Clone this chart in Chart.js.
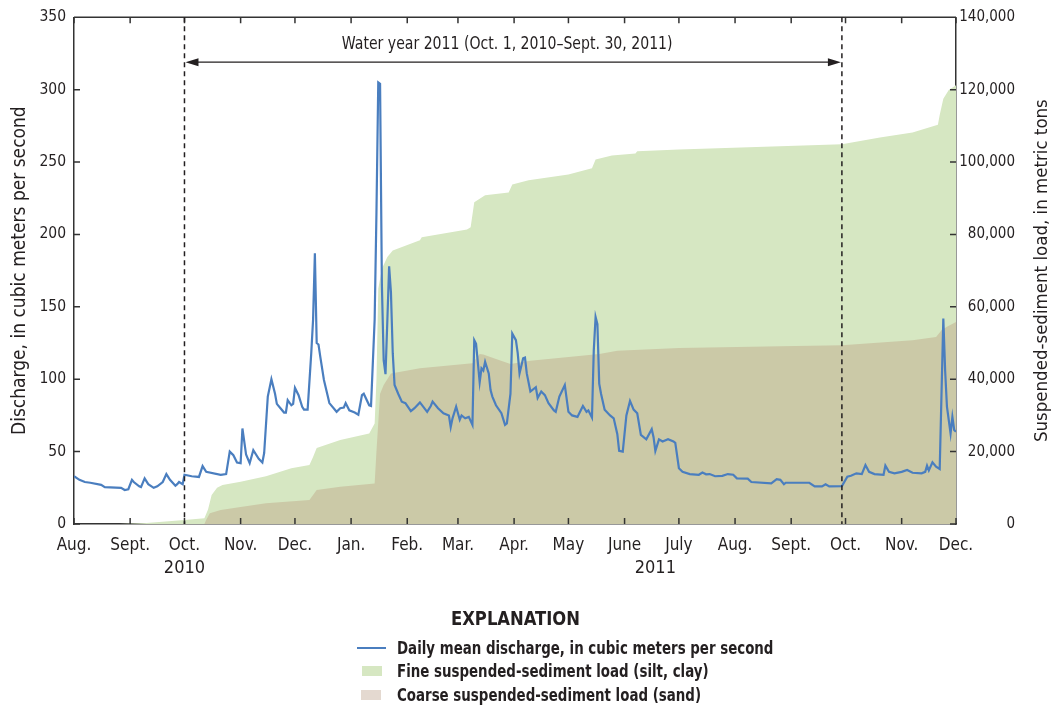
<!DOCTYPE html>
<html>
<head>
<meta charset="utf-8">
<script src="https://cdn.jsdelivr.net/npm/chart.js@4.4.1/dist/chart.umd.min.js"></script>
<style>
  body { margin: 0; background: #fff; }
  #wrap { position: relative; width: 1054px; height: 706px; font-family: 'Liberation Sans Narrow', 'DejaVu Sans Condensed', sans-serif; color: #231f20; }
  #chart { position: absolute; left: 0; top: 0; }
  .lg { position: absolute; font-weight: bold; font-size: 17px; line-height: 20px; white-space: nowrap; transform: scaleX(0.875); transform-origin: left center; }
  .sw { position: absolute; }
</style>
</head>
<body>
<div id="wrap">
  <canvas id="chart" width="1054" height="706"></canvas>
  <div class="lg" style="left:451px;top:606px;font-size:19px;line-height:24px;transform:scaleX(0.96);">EXPLANATION</div>
  <div class="sw" style="left:357px;top:647px;width:29px;height:2px;background:#4a7ebf;"></div>
  <div class="lg" style="left:397px;top:638px;">Daily mean discharge, in cubic meters per second</div>
  <div class="sw" style="left:362px;top:666px;width:20px;height:10px;background:#d6e7c2;"></div>
  <div class="lg" style="left:397px;top:661px;">Fine suspended-sediment load (silt, clay)</div>
  <div class="sw" style="left:361px;top:690px;width:20px;height:10px;background:#e4d9d0;"></div>
  <div class="lg" style="left:397px;top:685px;">Coarse suspended-sediment load (sand)</div>
</div>
<script>
// days counted from Aug. 1, 2010
var monthTickDay = [0,31,61,92,122,153,184,212,243,273,304,334,365,396,426,457,487]
var monthTickLabel = ['Aug.','Sept.','Oct.','Nov.','Dec.','Jan.','Feb.','Mar.','Apr.','May','June','July','Aug.','Sept.','Oct.','Nov.','Dec.']
var yearLabelDay = [61, 321]
var yearLabel = ['2010', '2011']
var waterYearDay = [61, 424]

// daily mean discharge, m3/s
var dischargeDay = [0,3,6,9,15,17,26,28,30,32,33,36,37,39,41,44,46,49,51,53,56,57,58,60,61,65,69,71,73,81,84,86,88,90,92,93,95,97,99,102,104,105,107,109,111,112,114,116,117,118,120,121,122,124,126,127,129,131,132,133,134,135,136,138,140,141,145,147,149,150,152,155,157,159,160,163,164,166,167,168,169,170,171,172,173,174,175,176,177,179,181,183,186,188,191,195,197,198,201,204,207,208,209,211,213,214,216,218,220,221,222,224,225,226,227,229,230,231,233,236,238,239,241,242,244,245,246,248,249,250,252,255,256,258,260,262,265,266,268,271,273,275,278,279,281,283,284,286,287,288,289,290,291,293,296,298,300,301,303,305,307,309,311,313,316,319,320,321,323,325,328,331,332,334,336,340,345,347,349,351,354,358,361,364,366,372,374,385,388,390,392,393,406,409,413,415,417,424,427,429,432,435,437,439,442,447,448,450,453,457,460,463,468,470,471,472,474,476,478,480,481,482,484,485,486,487]
var dischargeValue = [33,30.5,29,28.5,27,25.5,25,23.5,24,30.5,29,26,25.5,31.5,27.5,25,26,29,34.5,30.5,26.5,27.5,29,27.5,34,33,32.5,40,36,34,34.5,50,47.5,42.5,42,66,48,42,51,45,42.5,49,88,100,90,83,80,77,77,85.5,82,83,94,89,81,79,79,118,141,187,125,124,115.5,99.5,89,83.5,77.5,80,80.5,83.5,78.5,77,75.5,89,90,82,81.5,141,215,305,304,165,113,103.5,140,178,160,118,96,90,84.5,83.5,78,80,84,77.5,81.5,84.5,80,76.5,75,67,73,81,72,75,73,74,68.5,127,124.5,98,107.5,106,112,104,92.5,88,82,76.5,68.5,69.5,90,131.5,127,118,104,114.5,115,104,91.5,94.5,87,91.5,89,83.5,78.5,77.5,88,96,77.5,75,74,76.5,81.5,77.5,78.5,73.5,120,143,138,97,90,79,75,73,62,50.5,50,75,85,79,76.5,61.5,58.5,65.5,60,50.5,58.5,57,58.5,57,56,38.5,36,34.5,34,35.5,34.3,34.5,33,33.3,34.5,34,31.5,31.3,29,28,31,30.5,27.5,28.5,28.5,26,26,27.5,26,26.2,32.7,33.3,35,34.5,40.7,36,34.5,34,40.3,36,35,36,37.3,35.4,35,36,40.3,37,42.6,39.6,38,142,106,81,62.6,74,65,63.7]

// cumulative fine suspended-sediment load, metric tons
var fineDay = [0,25,40,61,72,74,76,79,82,92,106,120,130,132,134,147,163,166,167,168,170,173,176,191,192,217,219,221,227,240,242,251,273,286,288,297,310,311,334,424,445,463,477,478,480,483,487]
var fineLoad = [0,0,300,1100,1600,4000,8000,10000,10800,11700,13200,15400,16300,18500,21000,23200,25000,27800,40000,65000,70500,73800,75600,78400,79200,81400,82000,88900,90800,91600,93800,95000,96600,98300,100700,101800,102400,103000,103500,104900,106800,108200,110300,113000,117500,119900,121200]

// cumulative coarse suspended-sediment load, metric tons
var coarseDay = [0,72,73,75,81,92,106,130,132,134,147,166,167,169,171,175,191,220,224,226,233,241,252,290,300,334,390,424,463,476,479,482,487]
var coarseLoad = [0,0,1200,3000,3900,4700,5700,6600,8000,9400,10300,11200,20000,36000,38400,41600,43000,44400,47000,46800,45600,44200,45100,47000,47900,48600,49100,49400,50800,51700,53500,54500,55800]

var FONT = "'Liberation Sans Narrow', 'DejaVu Sans Condensed', sans-serif"
var INK = '#231f20'

function pts(xs, ys) {
  return xs.map(function (d, i) { return { x: d, y: ys[i] } })
}

// squeezed text, the original uses a condensed face
function narrowText(ctx, text, x, y, sx) {
  ctx.save()
  ctx.translate(x, y)
  ctx.scale(sx, 1)
  ctx.fillText(text, 0, 0)
  ctx.restore()
}

const decorations = {
  id: 'decorations',
  afterDraw(chart) {
    const { ctx, chartArea: a, scales } = chart
    const x = scales.x, y = scales.y, y2 = scales.y2
    ctx.save()
    ctx.strokeStyle = '#333'
    ctx.lineWidth = 1.5
    ctx.beginPath()
    ctx.moveTo(a.left, a.top); ctx.lineTo(a.right, a.top)
    // inward tick marks
    x.ticks.forEach(t => {
      const px = x.getPixelForValue(t.value)
      ctx.moveTo(px, a.bottom); ctx.lineTo(px, a.bottom - 6)
      ctx.moveTo(px, a.top); ctx.lineTo(px, a.top + 6)
    })
    y.ticks.forEach(t => {
      const py = y.getPixelForValue(t.value)
      ctx.moveTo(a.left, py); ctx.lineTo(a.left + 6, py)
    })
    y2.ticks.forEach(t => {
      const py = y2.getPixelForValue(t.value)
      ctx.moveTo(a.right, py); ctx.lineTo(a.right - 6, py)
    })
    ctx.stroke()

    // water year bounds
    ctx.strokeStyle = INK
    ctx.setLineDash([5, 4])
    ctx.beginPath()
    waterYearDay.forEach(d => {
      const px = x.getPixelForValue(d)
      ctx.moveTo(px, a.top); ctx.lineTo(px, a.bottom)
    })
    ctx.stroke()
    ctx.setLineDash([])

    // arrow
    const x1 = x.getPixelForValue(waterYearDay[0]) + 1
    const x2 = x.getPixelForValue(waterYearDay[1]) - 1
    const ay = y.getPixelForValue(319)
    ctx.lineWidth = 1.3
    ctx.beginPath()
    ctx.moveTo(x1 + 10, ay); ctx.lineTo(x2 - 10, ay)
    ctx.stroke()
    ctx.fillStyle = INK
    ctx.beginPath()
    ctx.moveTo(x1, ay); ctx.lineTo(x1 + 13, ay - 4); ctx.lineTo(x1 + 13, ay + 4); ctx.closePath()
    ctx.moveTo(x2, ay); ctx.lineTo(x2 - 13, ay - 4); ctx.lineTo(x2 - 13, ay + 4); ctx.closePath()
    ctx.fill()

    ctx.font = '17px ' + FONT
    ctx.textAlign = 'center'
    ctx.textBaseline = 'middle'
    narrowText(ctx, 'Water year 2011 (Oct. 1, 2010\u2013Sept. 30, 2011)', (x1 + x2) / 2 - 6, y.getPixelForValue(331.5), 0.92)

    // year labels under the month ticks
    ctx.font = '18px ' + FONT
    yearLabelDay.forEach((d, i) => {
      ctx.fillText(yearLabel[i], x.getPixelForValue(d), a.bottom + 44)
    })

    // axis titles
    const cy = (a.top + a.bottom) / 2
    ctx.font = '19px ' + FONT
    ctx.save()
    ctx.translate(20, cy)
    ctx.rotate(-Math.PI / 2)
    ctx.fillText('Discharge, in cubic meters per second', 0, 0)
    ctx.restore()
    ctx.font = '18.5px ' + FONT
    ctx.save()
    ctx.translate(1042, cy)
    ctx.rotate(-Math.PI / 2)
    ctx.fillText('Suspended-sediment load, in metric tons', 0, 0)
    ctx.restore()
    ctx.restore()
  }
}

Chart.defaults.font.family = FONT
Chart.defaults.font.size = 17
Chart.defaults.color = INK

new Chart(document.getElementById('chart'), {
  type: 'line',
  data: {
    datasets: [{
      label: 'Daily mean discharge, in cubic meters per second',
      data: pts(dischargeDay, dischargeValue),
      yAxisID: 'y',
      borderColor: '#4a7ebf',
      borderWidth: 2.2,
      pointRadius: 0,
      fill: false,
      tension: 0
    },
    {
      label: 'Coarse suspended-sediment load (sand)',
      data: pts(coarseDay, coarseLoad),
      yAxisID: 'y2',
      borderWidth: 0,
      borderColor: 'rgba(0,0,0,0)',
      backgroundColor: '#cbc9a7',
      fill: 'origin',
      pointRadius: 0,
      tension: 0
    },
    {
      label: 'Fine suspended-sediment load (silt, clay)',
      data: pts(fineDay, fineLoad),
      yAxisID: 'y2',
      borderWidth: 0,
      borderColor: 'rgba(0,0,0,0)',
      backgroundColor: '#d6e7c2',
      fill: 'origin',
      pointRadius: 0,
      tension: 0
    }]
  },
  options: {
    responsive: false,
    animation: false,
    devicePixelRatio: 1,
    layout: { padding: { top: 17, right: 39, bottom: 122, left: 0 } },
    plugins: {
      legend: { display: false },
      tooltip: { enabled: false }
    },
    scales: {
      x: {
        type: 'linear',
        min: 0,
        max: 487,
        afterBuildTicks: (s) => { s.ticks = monthTickDay.map(v => ({ value: v })) },
        afterFit: (s) => { s.height = 60 },
        grid: { display: false, drawTicks: false },
        border: { color: '#333', width: 1.5 },
        ticks: {
          autoSkip: false,
          maxRotation: 0,
          padding: 11,
          callback: (v) => monthTickLabel[monthTickDay.indexOf(v)]
        }
      },
      y: {
        position: 'left',
        min: 0,
        max: 350,
        afterFit: (s) => { s.width = 74 },
        grid: { display: false, drawTicks: false },
        border: { color: '#333', width: 1.5 },
        ticks: { stepSize: 50, padding: 8, font: { size: 15.5 } }
      },
      y2: {
        position: 'right',
        min: 0,
        max: 140000,
        afterFit: (s) => { s.width = 59 },
        grid: { display: false, drawTicks: false },
        border: { color: '#333', width: 1.5 },
        ticks: { stepSize: 20000, padding: 5, crossAlign: 'far', font: { size: 15 } }
      }
    }
  },
  plugins: [decorations]
})
</script>
</body>
</html>
